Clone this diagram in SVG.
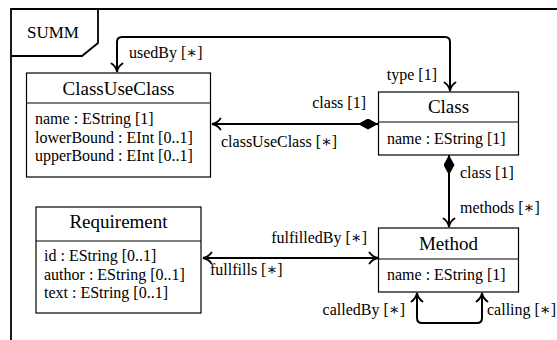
<svg xmlns="http://www.w3.org/2000/svg" width="557" height="340" viewBox="0 0 557 340" font-family="'Liberation Serif', 'DejaVu Serif', serif">
<style>
.t{font-size:19px;text-anchor:middle}
.a{font-size:16px}
.l{font-size:16px}
.e{text-anchor:end}
.box{fill:#fff;stroke:#000;stroke-width:1.2}
.con{fill:none;stroke:#000;stroke-width:2}
.frame{fill:none;stroke:#000;stroke-width:1.8}
</style>
<defs>
<marker id="arr" viewBox="0 0 10 12" refX="9.5" refY="6" markerWidth="10" markerHeight="12" markerUnits="userSpaceOnUse" orient="auto-start-reverse" overflow="visible">
<path d="M1,0.5 Q4,5 9.5,6 Q4,7 1,11.5" fill="none" stroke="#000" stroke-width="1.8" stroke-linecap="round"/>
</marker>
<marker id="dia" viewBox="0 0 20 11" refX="20" refY="5.5" markerWidth="20" markerHeight="11" markerUnits="userSpaceOnUse" orient="auto-start-reverse">
<path d="M0,5.5 L10,0 L20,5.5 L10,11 Z" fill="#000"/>
</marker>
</defs>
<g id="frame">
<path class="frame" d="M11,345 L11,9 L560,9"/>
<path class="frame" d="M11,56 L82,56 L98,43 L98,9"/>
<text x="27" y="38" font-size="17">SUMM</text>
</g>
<g id="connectors">
<path class="con" d="M117,72 L117,42 Q117,37 122,37 L445,37 Q450,37 450,42 L450,91" marker-start="url(#arr)" marker-end="url(#arr)"/>
<path class="con" d="M378,124 L212,124" marker-start="url(#dia)" marker-end="url(#arr)"/>
<path class="con" d="M449,155 L449,227" marker-start="url(#dia)" marker-end="url(#arr)"/>
<path class="con" d="M203,258 L378,258" marker-start="url(#arr)" marker-end="url(#arr)"/>
<path class="con" d="M417,293 L417,318 Q417,323 422,323 L477,323 Q482,323 482,318 L482,293" marker-start="url(#arr)" marker-end="url(#arr)"/>
<text class="l" x="129" y="58">usedBy [∗]</text>
<text class="l e" x="437" y="80">type [1]</text>
<text class="l e" x="366" y="108">class [1]</text>
<text class="l" x="221" y="147">classUseClass [∗]</text>
<text class="l" x="460" y="178">class [1]</text>
<text class="l" x="460" y="213">methods [∗]</text>
<text class="l e" x="367" y="243">fulfilledBy [∗]</text>
<text class="l" x="210" y="275">fullfills [∗]</text>
<text class="l e" x="405" y="315">calledBy [∗]</text>
<text class="l" x="487" y="315">calling [∗]</text>
</g>
<g id="ClassUseClass">
<rect class="box" x="26.5" y="73" width="184" height="104"/>
<line class="box" x1="26.5" y1="103" x2="210.5" y2="103"/>
<text class="t" x="118.5" y="95">ClassUseClass</text>
<text class="a" x="35" y="124">name : EString [1]</text>
<text class="a" x="35" y="143">lowerBound : EInt [0..1]</text>
<text class="a" x="35" y="161">upperBound : EInt [0..1]</text>
</g>
<g id="Class">
<rect class="box" x="378.5" y="92" width="140" height="63"/>
<line class="box" x1="378.5" y1="122" x2="518.5" y2="122"/>
<text class="t" x="448.5" y="113">Class</text>
<text class="a" x="387" y="144">name : EString [1]</text>
</g>
<g id="Method">
<rect class="box" x="378.5" y="228" width="140" height="64"/>
<line class="box" x1="378.5" y1="259" x2="518.5" y2="259"/>
<text class="t" x="448.5" y="250">Method</text>
<text class="a" x="387" y="280">name : EString [1]</text>
</g>
<g id="Requirement">
<rect class="box" x="36" y="207" width="165" height="106"/>
<line class="box" x1="36" y1="241" x2="201" y2="241"/>
<text class="t" x="118.5" y="228">Requirement</text>
<text class="a" x="44" y="261">id : EString [0..1]</text>
<text class="a" x="44" y="280">author : EString [0..1]</text>
<text class="a" x="44" y="298">text : EString [0..1]</text>
</g>
</svg>
